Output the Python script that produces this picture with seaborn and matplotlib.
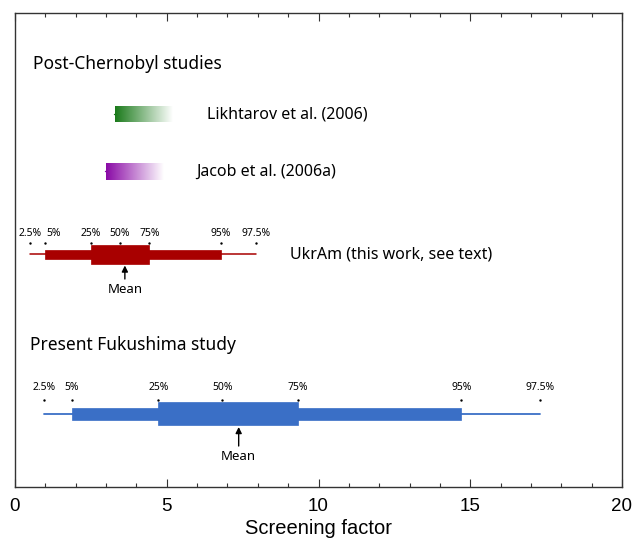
import numpy as np
import pandas as pd
import matplotlib
matplotlib.use("Agg")
import matplotlib.pyplot as plt
from matplotlib.colors import LinearSegmentedColormap
import seaborn as sns

# ---------------- data ----------------
pct_labels = ["2.5%", "5%", "25%", "50%", "75%", "95%", "97.5%"]
ukram_pct = [0.50, 0.99, 2.50, 3.46, 4.43, 6.79, 7.94]
ukram_mean = 3.62
fuku_pct = [0.97, 1.87, 4.72, 6.83, 9.32, 14.71, 17.29]
fuku_mean = 7.37
likhtarov_range = [3.30, 5.21]
jacob_range = [3.00, 4.91]
study_labels = ["Likhtarov et al. (2006)", "Jacob et al. (2006a)",
                "UkrAm (this work, see text)"]
group_labels = ["Post-Chernobyl studies", "Present Fukushima study"]
x_ticks = [0, 5, 10, 15, 20]

# ---------------- style ----------------
sns.set_theme(style="white")
plt.rcParams["font.family"] = ["Noto Sans", "DejaVu Sans"]
plt.rcParams["text.color"] = "black"
plt.rcParams["axes.labelcolor"] = "black"
plt.rcParams["xtick.color"] = "black"
RED = "#a80000"
BLUE = "#3a6fc6"
GREEN = "#1a7a1a"
PURPLE = "#8a0aa6"
TICKFONT = "Liberation Sans"

W, H = 643, 544
fig = plt.figure(figsize=(W / 100, H / 100), dpi=100)
ax = fig.add_axes([15 / W, (H - 487) / H, (622 - 15) / W, (487 - 13) / H])
ax.set_xlim(0, 20)
ax.set_ylim(487, 13)  # y in "row" units (top-down)


def gradient_bar(xr, yc, h, color):
    cmap = LinearSegmentedColormap.from_list("g", [color, "#ffffff"])
    grad = np.linspace(0, 1, 256).reshape(1, -1)
    ax.imshow(grad, cmap=cmap, aspect="auto",
              extent=(xr[0], xr[1], yc + h / 2, yc - h / 2), zorder=2)
    ax.plot([xr[0] - 0.04, xr[0] + 0.04], [yc, yc], color=color, lw=1.0,
            zorder=3)


def box_row(pct, mean, yc, color, h_outer, h_inner, lw, dot_y, lab_y,
            arrow_top, arrow_bot, mean_y, lab_shift):
    line_df = pd.DataFrame({"x": [pct[0], pct[-1]], "y": [yc, yc]})
    sns.lineplot(data=line_df, x="x", y="y", color=color, lw=lw, ax=ax,
                 sort=False, zorder=2)
    ax.barh(yc, pct[5] - pct[1], left=pct[1], height=h_outer, color=color,
            edgecolor=color, lw=0.5, zorder=3)
    ax.barh(yc, pct[4] - pct[2], left=pct[2], height=h_inner, color=color,
            edgecolor=color, lw=0.5, zorder=4)
    dots = pd.DataFrame({"x": pct, "y": [dot_y] * len(pct)})
    sns.scatterplot(data=dots, x="x", y="y", color="black", s=3,
                    linewidth=0, ax=ax, zorder=5)
    for p, lab, sh in zip(pct, pct_labels, lab_shift):
        ax.text(p + sh, lab_y, lab, ha="center", va="center", fontsize=7.5,
                color="black")
    ax.annotate("", xy=(mean, arrow_top), xytext=(mean, arrow_bot),
                arrowprops=dict(arrowstyle="-|>", color="black", lw=1,
                                mutation_scale=9, shrinkA=0, shrinkB=0))
    ax.text(mean, mean_y, "Mean", ha="center", va="center", fontsize=9.5)


# group titles
ax.text(0.59, 64, group_labels[0], ha="left", va="center", fontsize=12.5)
ax.text(0.49, 345, group_labels[1], ha="left", va="center", fontsize=12.5)

# gradient bars
gradient_bar(likhtarov_range, 114.5, 15.5, GREEN)
ax.text(6.33, 114.5, study_labels[0], ha="left", va="center", fontsize=11.5)
gradient_bar(jacob_range, 171.5, 16.5, PURPLE)
ax.text(5.97, 171.5, study_labels[1], ha="left", va="center", fontsize=11.5)

# UkrAm
box_row(ukram_pct, ukram_mean, 254.3, RED, 9, 19, 1.1, 243.3, 234,
        265.5, 279, 290, [0, 0.27, 0, 0, 0, 0, 0])
ax.text(9.07, 254.3, study_labels[2], ha="left", va="center", fontsize=11.5)

# Fukushima
box_row(fuku_pct, fuku_mean, 413.7, BLUE, 12.3, 23, 1.3, 399.8, 388,
        427, 446, 456.5, [0] * 7)

# axes styling
ax.set_xticks(x_ticks)
ax.set_xticklabels([str(t) for t in x_ticks], fontfamily=TICKFONT,
                   fontsize=13.5)
ax.set_xticks(np.arange(0, 21, 1), minor=True)
ax.set_yticks([])
ax.tick_params(axis="x", which="both", direction="in", top=True,
               bottom=True, color="#333333", width=0.8)
ax.tick_params(axis="x", which="major", length=6, pad=8)
ax.tick_params(axis="x", which="minor", length=3)
ax.set_xlabel("Screening factor", fontsize=14.5, fontfamily=TICKFONT,
              labelpad=3)
ax.set_ylabel("")
for s in ax.spines.values():
    s.set_color("#333333")
    s.set_linewidth(1.0)
    s.set_visible(True)

fig.savefig("out.png", dpi=100)
